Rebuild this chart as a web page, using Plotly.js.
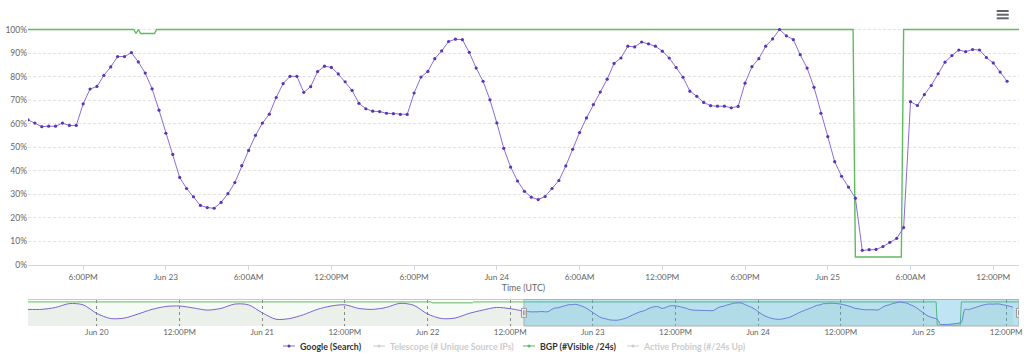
<!DOCTYPE html>
<html>
<head>
<meta charset="utf-8">
<script src="https://cdn.plot.ly/plotly-3.0.1.min.js"></script>
<style>
html,body{margin:0;padding:0;background:#fff;}
#chart{width:1024px;height:355px;}
</style>
</head>
<body>
<div id="chart"></div>
<script>
// ---------------- DATA ----------------
// Google (Search), half-hourly, starting 2020-06-22 14:00 UTC (% of normal)
const googleStart = '2020-06-22T14:00:00Z';
const googleStepMinutes = 30;
const googleValues = [
  61.6,60.2,58.7,58.9,58.9,60.2,59.2,59.2,68.4,74.7,75.8,80.5,84.1,88.5,88.5,90.2,86.2,81.5,74.8,65.7,55.9,46.9,37.1,32.4,28.9,25.2,24.3,24.0,26.5,30.2,34.9,42.1,48.6,55.0,60.2,64.0,
  71.1,77.0,80.1,80.1,73.3,75.7,82.1,84.4,83.9,81.1,77.8,74.1,68.6,66.3,65.3,65.1,64.4,64.2,63.9,63.9,73.0,79.8,82.2,87.6,90.9,94.9,95.9,95.7,90.3,83.6,78.0,70.1,60.3,49.5,41.5,
  35.6,31.2,28.7,27.7,29.0,32.4,35.8,42.0,49.1,56.2,62.4,68.1,73.4,78.9,85.6,87.9,92.9,92.6,94.7,93.9,92.9,90.8,87.9,83.8,79.7,73.8,71.6,69.0,67.6,67.4,67.4,66.7,67.3,77.2,84.2,87.6,
  92.9,96.0,100.0,97.3,95.7,89.3,83.6,75.4,64.4,54.5,43.8,37.6,33.0,28.3,6.1,6.4,6.5,7.7,9.5,11.2,15.8,69.3,67.7,72.3,76.2,81.2,86.1,88.9,91.3,90.6,91.5,91.3,88.1,85.8,81.9,78.0
];
// Google (Search) earlier history shown only in the navigator, 2-hourly from 2020-06-19 14:00 UTC
const googleEarlyStart = '2020-06-19T14:00:00Z';
const googleEarlyStepMinutes = 120;
const googleEarlyValues = [
  69,69,77,93,88,52,31,33,50,69,81,83,75,66,73,91,88,55,
  28,31,47,69,83,88,73,69,77,94,86,50,31,33,52,66,77,72
];
// BGP (#Visible /24s) as % of normal, at its change points
const bgpTimes = [
  '2020-06-19T14:00:00Z','2020-06-22T00:30:00Z','2020-06-22T00:40:00Z','2020-06-22T06:30:00Z','2020-06-22T06:40:00Z','2020-06-22T14:00:00Z',
  '2020-06-22T21:40:00Z','2020-06-22T21:50:00Z','2020-06-22T22:00:00Z','2020-06-22T22:10:00Z','2020-06-22T23:10:00Z','2020-06-22T23:20:00Z',
  '2020-06-25T01:50:00Z','2020-06-25T02:00:00Z','2020-06-25T05:20:00Z','2020-06-25T05:30:00Z','2020-06-25T13:52:00Z'
];
const bgpValues = [100,100,96,96,100,100,100,98.3,100,98.3,98.3,100,100,3.3,3.3,100,100];

// Axis ticks
const mainTickTimes = ['2020-06-22T18:00:00Z','2020-06-23T00:00:00Z','2020-06-23T06:00:00Z','2020-06-23T12:00:00Z','2020-06-23T18:00:00Z',
  '2020-06-24T00:00:00Z','2020-06-24T06:00:00Z','2020-06-24T12:00:00Z','2020-06-24T18:00:00Z','2020-06-25T00:00:00Z','2020-06-25T06:00:00Z','2020-06-25T12:00:00Z'];
const mainTickLabels = ['6:00PM','Jun 23','6:00AM','12:00PM','6:00PM','Jun 24','6:00AM','12:00PM','6:00PM','Jun 25','6:00AM','12:00PM'];
const navTickTimes = ['2020-06-20T00:00:00Z','2020-06-20T12:00:00Z','2020-06-21T00:00:00Z','2020-06-21T12:00:00Z','2020-06-22T00:00:00Z','2020-06-22T12:00:00Z',
  '2020-06-23T00:00:00Z','2020-06-23T12:00:00Z','2020-06-24T00:00:00Z','2020-06-24T12:00:00Z','2020-06-25T00:00:00Z','2020-06-25T12:00:00Z'];
const navTickLabels = ['Jun 20','12:00PM','Jun 21','12:00PM','Jun 22','12:00PM','Jun 23','12:00PM','Jun 24','12:00PM','Jun 25','12:00PM'];
const yTickValues = [0,10,20,30,40,50,60,70,80,90,100,110];
const yTickLabels = ['0%','10%','20%','30%','40%','50%','60%','70%','80%','90%','100%',''];

const legendNames = ['Google (Search)','Telescope (# Unique Source IPs)','BGP (#Visible /24s)','Active Probing (#/24s Up)'];

// ---------------- BUILD ----------------
function seriesTimes(startIso, stepMin, n){
  const t0 = Date.parse(startIso), out = [];
  for (let i=0;i<n;i++) out.push(t0 + i*stepMin*60000);
  return out;
}
const toMs = a => a.map(s => Date.parse(s));
const googleX = seriesTimes(googleStart, googleStepMinutes, googleValues.length);
const googleEarlyX = seriesTimes(googleEarlyStart, googleEarlyStepMinutes, googleEarlyValues.length);
const navGoogleX = googleEarlyX.concat(googleX);
const navGoogleY = googleEarlyValues.concat(googleValues);
const bgpX = toMs(bgpTimes);

const mainRange = [Date.parse('2020-06-22T14:00:00Z'), Date.parse('2020-06-25T13:52:00Z')];
const navRange = [Date.parse('2020-06-19T14:00:00Z'), Date.parse('2020-06-25T13:52:00Z')];
const selStart = Date.parse('2020-06-22T14:00:00Z');

const GOOGLE = '#8a6cd9', GOOGLE_MK = '#5a35b3', BGP = '#5fba5f', HIDDEN = '#cccccc';

// pixel layout helpers
const PL=28, PR=1019, PT=6, PB=326;
const px = v => (v-PL)/(PR-PL);
const py = v => (PB-v)/(PB-PT);

const traces = [
  {x: bgpX, y: bgpValues, type:'scatter', mode:'lines', name: legendNames[2], xaxis:'x', yaxis:'y',
   line:{color:BGP, width:1.4, simplify:false}, hoverinfo:'x+y'},
  {x: googleX, y: googleValues, type:'scatter', mode:'lines+markers', name: legendNames[0], xaxis:'x', yaxis:'y',
   line:{color:GOOGLE, width:1}, marker:{color:GOOGLE_MK, size:3.2}, hoverinfo:'x+y'},
  // navigator
  {x: bgpX, y: bgpValues, type:'scatter', mode:'lines', xaxis:'x2', yaxis:'y2', fill:'tozeroy',
   fillcolor:'rgba(102,189,102,0.06)', line:{color:BGP, width:1}, hoverinfo:'skip'},
  {x: navGoogleX, y: navGoogleY, type:'scatter', mode:'lines', xaxis:'x2', yaxis:'y2', fill:'tozeroy',
   fillcolor:'rgba(110,120,115,0.08)', line:{color:'#7e62d0', width:1, shape:'spline', smoothing:0.8}, hoverinfo:'skip'}
];

const shapes = [];
const annotations = [];
// navigator selection mask + outline
shapes.push({type:'line', xref:'paper', yref:'paper', x0:0, x1:1, y0:py(299.5), y1:py(299.5), line:{color:'#c8c8c8', width:1}, layer:'above'});
shapes.push({type:'rect', xref:'x2', yref:'paper', x0:selStart, x1:navRange[1], y0:py(326), y1:py(299.5),
  fillcolor:'rgba(60,175,222,0.33)', line:{color:'#b0b0b0', width:1}, layer:'above'});
// handles
[selStart, navRange[1]].forEach(t => {
  shapes.push({type:'rect', xref:'x2', yref:'paper', xsizemode:'pixel', xanchor:t, x0:-2.5, x1:2.5,
    ysizemode:'pixel', yanchor:py(312.8), y0:-4.5, y1:4.5, fillcolor:'#f2f2f2', line:{color:'#999', width:1}, layer:'above'});
  shapes.push({type:'line', xref:'x2', yref:'paper', xsizemode:'pixel', xanchor:t, x0:-0.5, x1:-0.5,
    ysizemode:'pixel', yanchor:py(312.8), y0:-2.5, y1:2.5, line:{color:'#999', width:1}, layer:'above'});
  shapes.push({type:'line', xref:'x2', yref:'paper', xsizemode:'pixel', xanchor:t, x0:1, x1:1,
    ysizemode:'pixel', yanchor:py(312.8), y0:-2.5, y1:2.5, line:{color:'#999', width:1}, layer:'above'});
});
// export menu icon
[11, 14.7, 18.3].forEach(yy => {
  shapes.push({type:'line', xref:'paper', yref:'paper', x0:px(996.7), x1:px(1008.7), y0:py(yy), y1:py(yy), line:{color:'#666', width:2}});
});
// manual legend
const legendItems = [
  {name: legendNames[0], sx:283, tx:298, color:GOOGLE, mk:GOOGLE_MK, text:'#333'},
  {name: legendNames[1], sx:373, tx:388, color:HIDDEN, mk:HIDDEN, text:HIDDEN},
  {name: legendNames[2], sx:523, tx:538, color:BGP, mk:BGP, text:'#333'},
  {name: legendNames[3], sx:627, tx:641, color:HIDDEN, mk:HIDDEN, text:HIDDEN}
];
const LY = 346;
legendItems.forEach(it => {
  shapes.push({type:'line', xref:'paper', yref:'paper', x0:px(it.sx), x1:px(it.sx+12), y0:py(LY), y1:py(LY), line:{color:it.color, width:1}});
  shapes.push({type:'circle', xref:'paper', yref:'paper', xsizemode:'pixel', ysizemode:'pixel', xanchor:px(it.sx+6), yanchor:py(LY),
    x0:-1.5, x1:1.5, y0:-1.5, y1:1.5, fillcolor:it.mk, line:{width:0}});
  annotations.push({xref:'paper', yref:'paper', x:px(it.tx), y:py(LY), xanchor:'left', yanchor:'middle', showarrow:false,
    text:'<b>'+it.name+'</b>', font:{family:'Lato, sans-serif', size:8.8, color:it.text}});
});

const layout = {
  width:1024, height:355,
  margin:{l:PL, r:1024-PR, t:PT, b:355-PB},
  paper_bgcolor:'#ffffff', plot_bgcolor:'#ffffff',
  font:{family:'Lato, sans-serif', size:8.3, color:'#666'},
  showlegend:false,
  hovermode:'closest',
  xaxis:{type:'date', range:mainRange, domain:[0,1], anchor:'y',
    tickmode:'array', tickvals:toMs(mainTickTimes), ticktext:mainTickLabels,
    ticks:'outside', ticklen:4, tickcolor:'#ccd6eb', tickwidth:1,
    showline:true, linecolor:'#ccd6eb', linewidth:1, showgrid:false, zeroline:false,
    tickfont:{size:8.3, color:'#666'},
    title:{text:'Time (UTC)', font:{size:8.8, color:'#666'}, standoff:3}},
  yaxis:{domain:[py(264.7),1], range:[0,110], anchor:'x',
    tickmode:'array', tickvals:yTickValues, ticktext:yTickLabels,
    showgrid:true, gridcolor:'#e3e3e3', griddash:'3px,2px', gridwidth:1, zeroline:false, showline:false, ticks:'',
    tickfont:{size:8.5, color:'#666'}},
  xaxis2:{type:'date', range:navRange, domain:[0,1], anchor:'y2',
    tickmode:'array', tickvals:toMs(navTickTimes), ticktext:navTickLabels,
    showgrid:true, gridcolor:'#8a8a8a', griddash:'3px,3px', gridwidth:1, zeroline:false, showline:false, ticks:'',
    tickfont:{size:8, color:'#666'}},
  yaxis2:{domain:[0, py(299.5)], range:[0,110], anchor:'x2', visible:false, fixedrange:true},
  shapes: shapes,
  annotations: annotations
};

Plotly.newPlot('chart', traces, layout, {displayModeBar:false, staticPlot:false, responsive:false});
</script>
</body>
</html>
